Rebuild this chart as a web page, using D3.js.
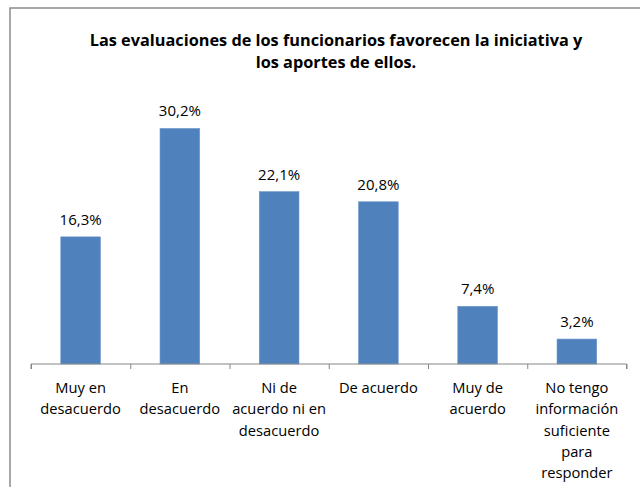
<!DOCTYPE html>
<html><head><meta charset="utf-8">
<script src="https://cdn.jsdelivr.net/npm/d3@7"></script>
<style>body{margin:0;background:#fff}svg{display:block}</style>
</head><body>
<script>
const categories = [
  ["Muy en","desacuerdo"],
  ["En","desacuerdo"],
  ["Ni de","acuerdo ni en","desacuerdo"],
  ["De acuerdo"],
  ["Muy de","acuerdo"],
  ["No tengo","información","suficiente","para","responder"]
];
const values = [16.3, 30.2, 22.1, 20.8, 7.4, 3.2];
const valueLabels = ["16,3%","30,2%","22,1%","20,8%","7,4%","3,2%"];
const titleLines = ["Las evaluaciones de los funcionarios favorecen la iniciativa y","los aportes de ellos."];

const W = 640, H = 487;
const svg = d3.select("body").append("svg").attr("width", W).attr("height", H);
const font = "Open Sans";

// outer chart border (extends beyond right/bottom)
svg.append("rect").attr("x",10).attr("y",8).attr("width",700).attr("height",600)
  .attr("fill","none").attr("stroke","#8c8c8c").attr("stroke-width",1.5);

const x0 = 31, x1 = 626.5, yBase = 364;
const x = d3.scaleBand().domain(d3.range(values.length)).range([x0, x1]).paddingInner(0.6).paddingOuter(0.3);
const y = d3.scaleLinear().domain([0, 35]).range([yBase, yBase - 35*7.8]);

// title
svg.append("g").selectAll("text").data(titleLines).join("text")
  .attr("x", 336).attr("y", (d,i)=> 46 + i*22)
  .attr("text-anchor","middle").attr("font-family",font).attr("font-weight","bold")
  .attr("font-size",16.3).attr("fill","#000").text(d=>d);

// bars
svg.append("g").selectAll("rect").data(values).join("rect")
  .attr("x",(d,i)=>x(i)).attr("width",x.bandwidth())
  .attr("y",d=>y(d)).attr("height",d=>yBase-y(d))
  .attr("fill","#4F81BD").attr("stroke","#6f98cc").attr("stroke-width",0.6);

// value labels
svg.append("g").selectAll("text").data(values).join("text")
  .attr("x",(d,i)=>x(i)+x.bandwidth()/2).attr("y",d=>y(d)-12)
  .attr("text-anchor","middle").attr("font-family",font).attr("font-size",15)
  .attr("fill","#000").text((d,i)=>valueLabels[i]);

// x axis line and ticks (between categories)
const axisScale = d3.scaleLinear().domain([0, values.length]).range([x0, x1]);
const ax = svg.append("g").attr("transform",`translate(0,${yBase})`)
  .call(d3.axisBottom(axisScale).tickValues(d3.range(values.length+1)).tickSize(5).tickFormat(""));
ax.select(".domain").attr("stroke","#868686").attr("d",`M${x0},5V0H${x1}V5`);
ax.selectAll(".tick line").attr("stroke","#868686");

// category labels
const cg = svg.append("g").selectAll("g").data(categories).join("g");
cg.each(function(lines,i){
  d3.select(this).selectAll("text").data(lines).join("text")
    .attr("x", x(i)+x.bandwidth()/2).attr("y",(d,j)=>393 + j*21.3)
    .attr("text-anchor","middle").attr("font-family",font).attr("font-size",14.7)
    .attr("fill","#000").text(d=>d);
});
</script>
</body></html>
